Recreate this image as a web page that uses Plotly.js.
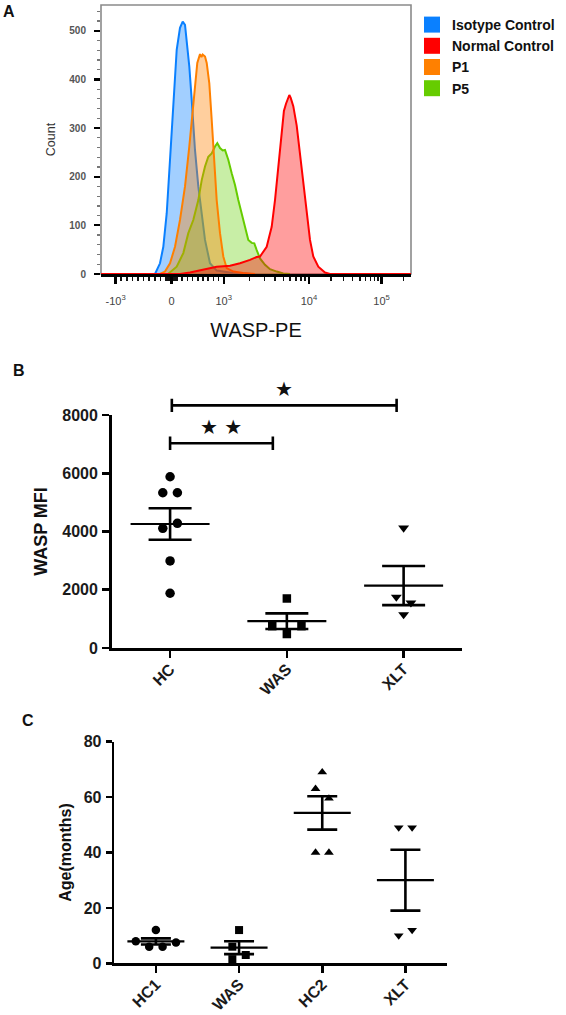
<!DOCTYPE html>
<html><head><meta charset="utf-8">
<script src="https://cdn.plot.ly/plotly-3.0.1.min.js"></script>
<style>html,body{margin:0;padding:0;background:#fff}</style>
</head><body>
<div id="chart" style="width:566px;height:1015px"></div>
<script>
// ================= Panel A : WASP-PE histograms =================
// x = display channel of the biexponential WASP-PE axis (0–1000), y = event count
const isoChannel = [174.2,190.3,201,212,222.6,233.2,244.2,254.8,263.5,271,276.4,284.8,292.6,303.2,313.9,324.8,335.5,351.6,373.2,425.8,483.9];
const isoCount   = [0,22,56,125,235,358,461,506,519,512,482,427,358,255,180,118,70,22,7,2,0];

const p1Channel = [190.3,206.4,222.6,238.7,254.8,271,284.8,295.8,303.2,310.6,319.4,324,328,335.5,341,349.4,357.1,365.5,373.2,383.9,394.5,405.5,426.8,458,496.8];
const p1Count   = [0,5,22,56,111,180,262,337,392,434,452,446,451,447,434,392,317,221,152,84,36,12,5,2,0];

const p5Channel = [216.1,244.2,265.5,281.6,297.7,313.9,324.9,335.5,346.1,357.1,367.7,375.2,383.9,392.6,400,410.6,421.6,432.3,442.9,453.9,464.5,475.2,486.1,494.5,502.3,512.9,529,545.2,566.8,588.1,609.7];
const p5Count   = [0,15,43,84,111,152,193,221,241,248,262,269,259,254,255,235,207,183,152,125,97,70,64,63,49,32,19,10,5,1,0];

const normalChannel = [0,254.8,287,319.4,373.2,416.1,448.4,480.6,502.3,512.9,523.5,534.5,541.9,550.6,561.3,571.9,582.9,590,596.8,603,607.5,612,620.3,631.3,641.9,654.8,665.5,674.2,684.8,701,722.6,738.7,1000];
const normalCount   = [0,0,3,8,15,17,22,29,35,36,45,56,75,97,152,221,303,335,350,362,368,362,345,305,248,180,125,70,36,15,3,0,0];

const histNames = ['Isotype Control','Normal Control','P1','P5'];

// biexponential display: anchor values and their display channels
const scaleValues   = [-1000, 0, 1000, 10000, 100000];
const scaleChannels = [47, 228, 396, 671, 905];
const scaleLabels   = ['-10<sup>3</sup>','0','10<sup>3</sup>','10<sup>4</sup>','10<sup>5</sup>'];
const countTicks    = [0,100,200,300,400,500];

// ================= Panel B : WASP MFI =================
const mfiGroups = ['HC','WAS','XLT'];
const mfiHC  = [5880,5330,5330,4110,4280,2990,1880];
const mfiWAS = [1700,480,750,750];
const mfiXLT = [4120,1750,1550,1150];
const mfiTicks = [0,2000,4000,6000,8000];
const sigFrom  = [0, 0.015];
const sigTo    = [0.88, 1.94];
const sigLevel = [7030, 8330];
const sigText  = ['★ ★','★'];

// ================= Panel C : Age =================
const ageGroups = ['HC1','WAS','HC2','XLT'];
const ageHC1 = [12,6,6,8,7.5];
const ageWAS = [12,1.5,3,6];
const ageHC2 = [69,63,59.5,40,40];
const ageXLT = [49,49,10,12];
const ageTicks = [0,20,40,60,80];

// ---------- helpers ----------
function toChannel(v){
  let i = 0;
  while (i < scaleValues.length - 2 && v > scaleValues[i+1]) i++;
  const v0 = scaleValues[i], v1 = scaleValues[i+1], c0 = scaleChannels[i], c1 = scaleChannels[i+1];
  if (v0 >= 1000) return c0 + (Math.log10(v) - Math.log10(v0)) / (Math.log10(v1) - Math.log10(v0)) * (c1 - c0);
  return c0 + (v - v0) / (v1 - v0) * (c1 - c0);
}
const majorCh = scaleValues.map(toChannel);
const minorCh = [];
for (let d = 1; d <= 5; d++) for (let k = 1; k <= 9; k++) {
  const v = k * Math.pow(10, d);
  [v, -v].forEach(w => {
    if (scaleValues.indexOf(w) >= 0) return;
    const c = toChannel(w);
    if (c >= 0 && c <= 1000) minorCh.push(c);
  });
}
const mean = a => a.reduce((s, v) => s + v, 0) / a.length;
const sem = a => { const m = mean(a); return Math.sqrt(a.reduce((s, v) => s + (v - m) * (v - m), 0) / (a.length - 1)) / Math.sqrt(a.length); };

function swarmSteps(values, pxPerUnit, nearPx){
  const placed = [];
  values.forEach(v => {
    const near = placed.filter(p => Math.abs(p.v - v) * pxPerUnit < nearPx);
    const tries = [0];
    for (let j = 1; j <= 12; j++) tries.push(j, -j);
    const k = tries.find(t => near.every(p => Math.abs(p.k - t) >= 2));
    placed.push({v, k});
  });
  const order = placed.map((p, i) => i).sort((a, b) => placed[a].v - placed[b].v);
  let start = 0;
  for (let i = 1; i <= order.length; i++) {
    if (i === order.length || (placed[order[i]].v - placed[order[i-1]].v) * pxPerUnit >= nearPx) {
      const grp = order.slice(start, i);
      const ks = grp.map(j => placed[j].k);
      const shift = (Math.min(...ks) + Math.max(...ks)) / 2;
      grp.forEach(j => placed[j].k -= shift);
      start = i;
    }
  }
  return placed.map(p => p.k);
}

const traces = [];
// ----- Panel A traces (draw order: blue, green, orange, red) -----
const histSeries = [
  {x: isoChannel, y: isoCount, line: '#0A80FF', fill: 'rgba(10,128,255,0.38)'},
  {x: p5Channel, y: p5Count, line: '#66CC00', fill: 'rgba(110,210,20,0.38)'},
  {x: p1Channel, y: p1Count, line: '#FF8000', fill: 'rgba(255,128,0,0.38)'},
  {x: normalChannel, y: normalCount, line: '#FF0000', fill: 'rgba(255,0,0,0.38)'}
];
histSeries.forEach(s => traces.push({
  type: 'scatter', mode: 'lines', x: s.x, y: s.y, xaxis: 'x', yaxis: 'y',
  fill: 'tozeroy', fillcolor: s.fill, line: {color: s.line, width: 2},
  showlegend: false, hoverinfo: 'skip'
}));
const legendColors = ['#0A80FF','#FF0000','#FF8000','#66CC00'];
histNames.forEach((n, i) => traces.push({
  type: 'scatter', mode: 'markers', x: [null], y: [null], xaxis: 'x', yaxis: 'y',
  name: n, marker: {symbol: 'square', size: 16, color: legendColors[i]}, showlegend: true
}));

// ----- Panel B / C dot plots -----
// line-ew symbol length is 1.4 x marker size
function dotPlot(groups, symbols, sizes, xa, ya, pxPerUnit, halfStep, meanLenPx, capHalf){
  groups.forEach((vals, i) => {
    traces.push({
      type: 'scatter', mode: 'markers', x: [i], y: [mean(vals)], xaxis: xa, yaxis: ya,
      marker: {symbol: 'line-ew', size: meanLenPx / 1.4, color: 'black', line: {color: 'black', width: 2.2}},
      error_y: {type: 'data', array: [sem(vals)], visible: true, color: 'black', thickness: 2.6, width: capHalf},
      showlegend: false, hoverinfo: 'skip'
    });
  });
  groups.forEach((vals, i) => {
    const steps = swarmSteps(vals, pxPerUnit, 10.5);
    traces.push({
      type: 'scatter', mode: 'markers', xaxis: xa, yaxis: ya,
      x: steps.map(k => i + k * halfStep), y: vals,
      marker: {symbol: symbols[i], size: sizes[i], color: 'black'},
      showlegend: false, hoverinfo: 'skip', cliponaxis: false
    });
  });
}
dotPlot([mfiHC, mfiWAS, mfiXLT], ['circle','square','triangle-down'], [9.5, 8.5, 9.5],
        'x2', 'y2', 233 / 8000, 7.3 / 116.8, 79, 21.5);
dotPlot([ageHC1, ageWAS, ageHC2, ageXLT], ['circle','square','triangle-up','triangle-down'], [8.5, 8, 8.5, 8.5],
        'x3', 'y3', 221.6 / 80, 6.7 / 83.2, 57, 15);

// significance brackets (panel B)
const capH = 230;
const bx = [], by = [];
sigFrom.forEach((f, i) => {
  const t = sigTo[i], y = sigLevel[i];
  bx.push(f, f, null, f, t, null, t, t, null);
  by.push(y - capH, y + capH, null, y, y, null, y - capH, y + capH, null);
});
traces.push({type: 'scatter', mode: 'lines', x: bx, y: by, xaxis: 'x2', yaxis: 'y4',
  line: {color: 'black', width: 2.6}, showlegend: false, hoverinfo: 'skip'});

// ---------- layout ----------
const FONT = 'Liberation Sans, Arial, sans-serif';
const bBottom = 1 - 648 / 1015, bTop = 1 - 415 / 1015;
const y4Top = bBottom + (bTop - bBottom) * 8700 / 8000;

const annotations = [
  {text: '<b>A</b>', x: 9 / 566, y: 1 - 11.5 / 1015},
  {text: '<b>B</b>', x: 19 / 566, y: 1 - 370 / 1015},
  {text: '<b>C</b>', x: 28 / 566, y: 1 - 720 / 1015}
].map(a => Object.assign({xref: 'paper', yref: 'paper', showarrow: false, xanchor: 'center', yanchor: 'middle',
  font: {family: FONT, size: 16, color: '#111'}}, a));
sigText.forEach((t, i) => annotations.push({
  text: t, xref: 'x2', yref: 'y4', x: (sigFrom[i] + sigTo[i]) / 2, y: sigLevel[i],
  yshift: 16, showarrow: false, xanchor: 'center', yanchor: 'middle',
  font: {family: 'DejaVu Sans', size: 20, color: '#111'}
}));

const dotAxisX = (domain, groups) => ({
  domain, range: [-0.5, groups.length - 0.5], tickmode: 'array',
  tickvals: groups.map((g, i) => i), ticktext: groups, tickangle: -45,
  showline: true, linecolor: 'black', linewidth: 2.6, ticks: 'outside', ticklen: 7, tickwidth: 2.6,
  tickcolor: 'black', showgrid: false, zeroline: false, ticklabelstandoff: -4,
  tickfont: {family: FONT, size: 16, weight: 'bold', color: '#1a1a1a'}
});

const layout = {
  width: 566, height: 1015, margin: {l: 0, r: 0, t: 0, b: 0},
  paper_bgcolor: '#fff', plot_bgcolor: 'rgba(0,0,0,0)',
  font: {family: FONT, color: '#111'},
  showlegend: true,
  legend: {x: 412 / 566, xanchor: 'left', y: 1 - 9 / 1015, yanchor: 'top',
    bgcolor: 'rgba(0,0,0,0)', borderwidth: 0, itemwidth: 30, tracegroupgap: 0,
    font: {family: FONT, size: 14, weight: 'bold', color: '#111'}},
  xaxis: {
    domain: [101 / 566, 411 / 566], range: [0, 1000], anchor: 'y',
    tickmode: 'array', tickvals: majorCh, ticktext: scaleLabels,
    ticks: 'outside', ticklen: 7, tickwidth: 2.5, tickcolor: 'black',
    minor: {tickmode: 'array', tickvals: minorCh, ticks: 'outside', ticklen: 4.5, tickwidth: 1.6, tickcolor: '#111', showgrid: false},
    showline: true, linecolor: 'black', linewidth: 2.5, showgrid: false, zeroline: false,
    ticklabelstandoff: 8,
    tickfont: {family: FONT, size: 11, color: '#444'},
    title: {text: 'WASP-PE', standoff: 18, font: {family: FONT, size: 20, color: '#111'}}
  },
  yaxis: {
    domain: [1 - 274 / 1015, 1 - 5 / 1015], range: [0, 553], anchor: 'x',
    tickmode: 'array', tickvals: countTicks,
    ticks: 'outside', ticklen: 6, tickwidth: 2.2, tickcolor: 'black',
    minor: {dtick: 20, ticks: 'outside', ticklen: 3, tickwidth: 1.2, tickcolor: '#777', showgrid: false},
    showline: false, showgrid: false, zeroline: false,
    ticklabelstandoff: 6,
    tickfont: {family: FONT, size: 10, weight: 'bold', color: '#555'},
    title: {text: 'Count', standoff: 10, font: {family: FONT, size: 12.5, color: '#333'}}
  },
  xaxis2: Object.assign(dotAxisX([111.7 / 566, 462 / 566], mfiGroups), {anchor: 'y2'}),
  yaxis2: {
    domain: [bBottom, bTop], range: [0, 8000], anchor: 'x2',
    tickmode: 'array', tickvals: mfiTicks,
    showline: true, linecolor: 'black', linewidth: 2.6, ticks: 'outside', ticklen: 7, tickwidth: 2.6,
    tickcolor: 'black', showgrid: false, zeroline: false, ticklabelstandoff: 1,
    tickfont: {family: FONT, size: 16, weight: 'bold', color: '#1a1a1a'},
    title: {text: 'WASP MFI', standoff: 10, font: {family: FONT, size: 18, weight: 'bold', color: '#111'}}
  },
  yaxis4: {domain: [bBottom, y4Top], range: [0, 8700], anchor: 'x2', visible: false, fixedrange: true},
  xaxis3: Object.assign(dotAxisX([114.3 / 566, 447 / 566], ageGroups), {anchor: 'y3'}),
  yaxis3: {
    domain: [1 - 963.3 / 1015, 1 - 741.7 / 1015], range: [0, 80], anchor: 'x3',
    tickmode: 'array', tickvals: ageTicks,
    showline: true, linecolor: 'black', linewidth: 2.6, ticks: 'outside', ticklen: 6, tickwidth: 2.6,
    tickcolor: 'black', showgrid: false, zeroline: false, ticklabelstandoff: 1,
    tickfont: {family: FONT, size: 16, weight: 'bold', color: '#1a1a1a'},
    title: {text: 'Age(months)', standoff: 8, font: {family: FONT, size: 16, weight: 'bold', color: '#111'}}
  },
  shapes: [{type: 'rect', xref: 'x domain', yref: 'y domain', x0: 0, x1: 1, y0: 0, y1: 1,
    line: {color: '#8a8a8a', width: 1.6}, layer: 'below'}],
  annotations
};

Plotly.newPlot('chart', traces, layout, {displayModeBar: false, staticPlot: true});
</script>
</body></html>
